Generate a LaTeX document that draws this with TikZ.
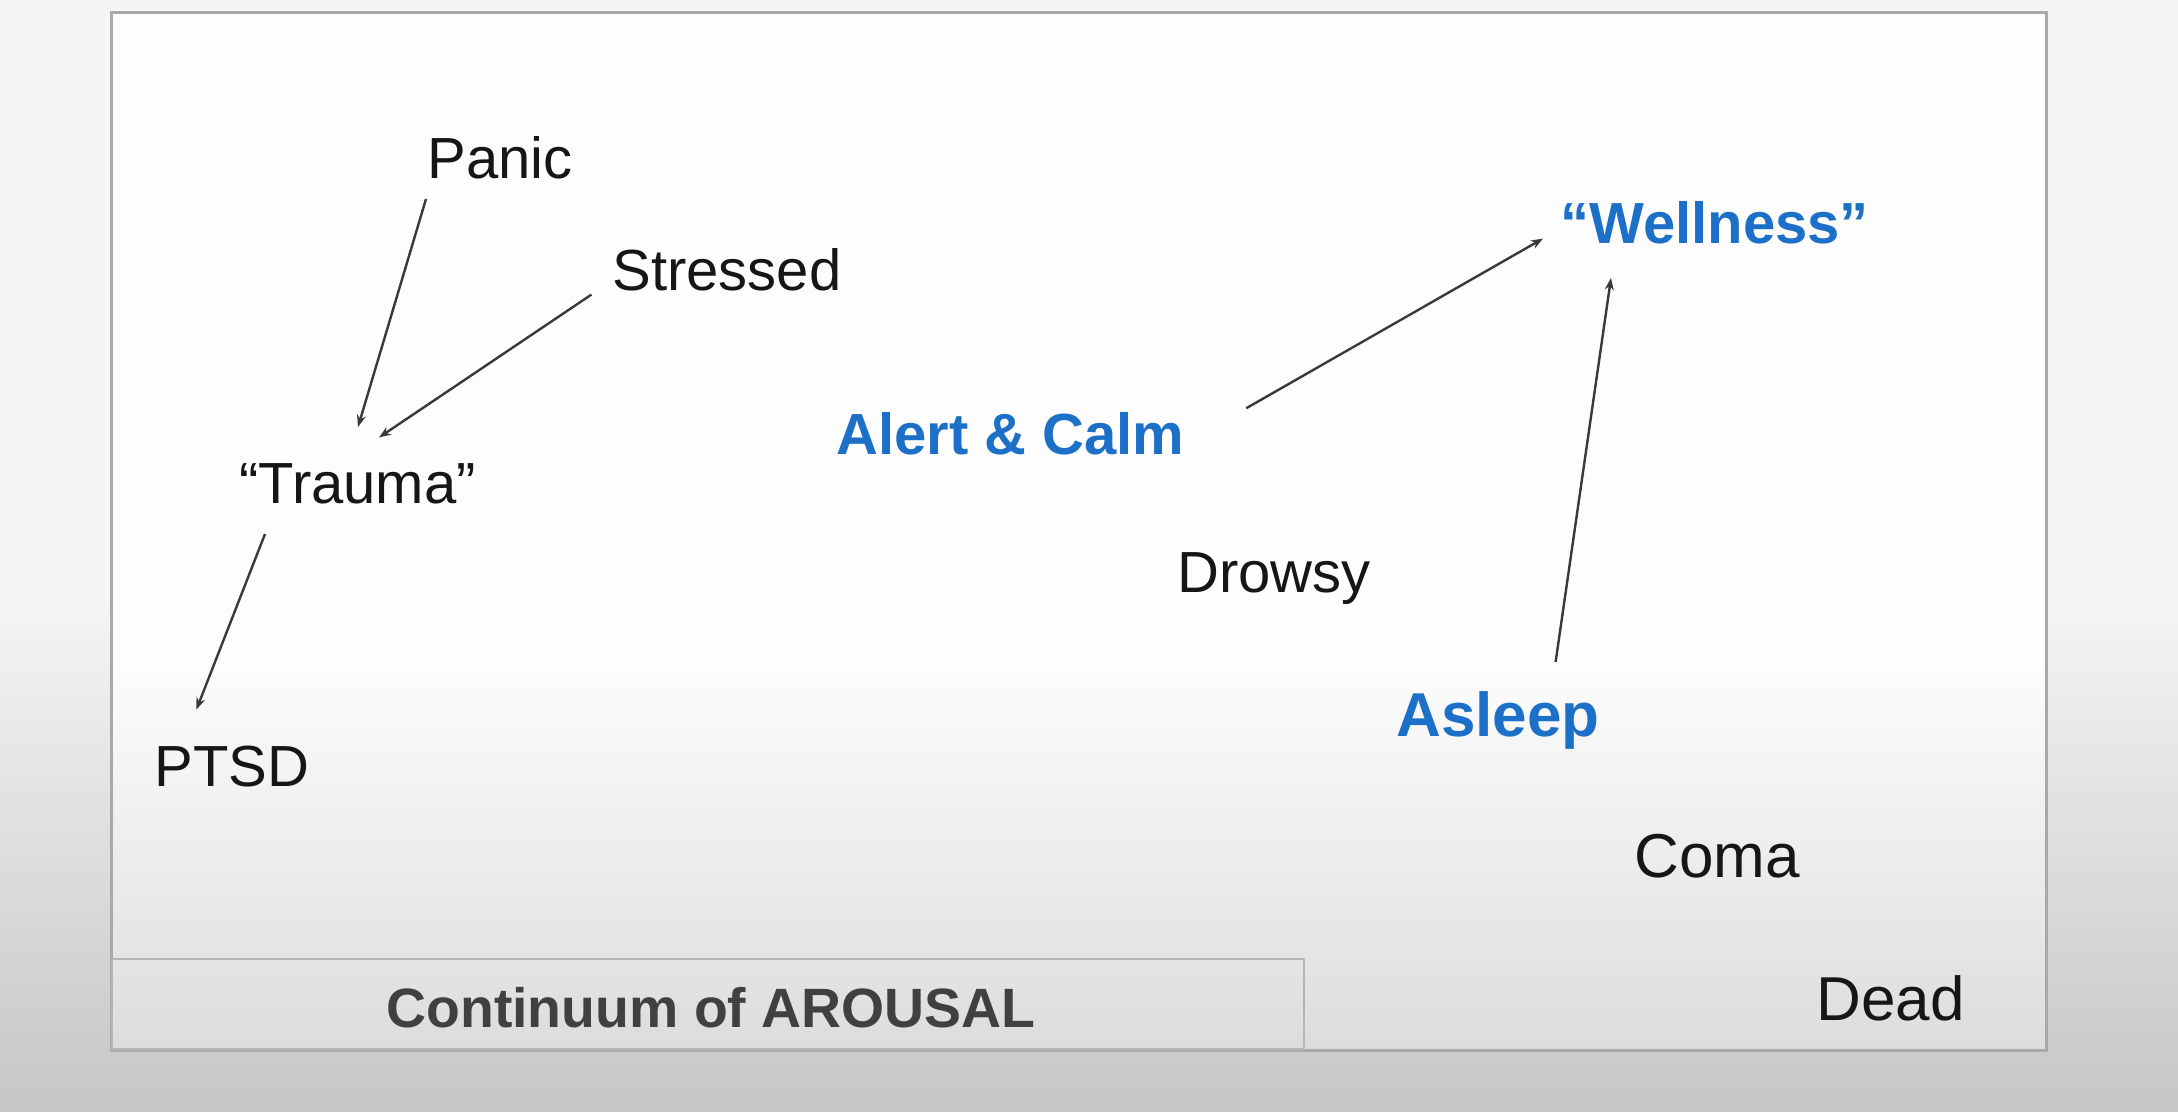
\documentclass[tikz,border=0pt]{standalone}
\usepackage{fontspec}
\setmainfont{Liberation Sans}
\usetikzlibrary{arrows.meta}
\definecolor{lblue}{RGB}{28,112,200}
\definecolor{ink}{RGB}{22,22,22}
\definecolor{framegray}{RGB}{168,170,168}
\pgfdeclareverticalshading{bgshade}{100bp}{rgb(0bp)=(0.77,0.78,0.77); rgb(25bp)=(0.77,0.78,0.77); rgb(48bp)=(0.955,0.96,0.955); rgb(100bp)=(0.955,0.96,0.955)}
\pgfdeclareverticalshading{inshade}{100bp}{rgb(0bp)=(0.86,0.865,0.86); rgb(25bp)=(0.86,0.865,0.86); rgb(44bp)=(0.99,0.993,0.99); rgb(100bp)=(0.99,0.993,0.99)}
\tikzset{
  lbl/.style={inner sep=0pt, anchor=base west, text=ink, font=\fontsize{29pt}{34pt}\selectfont},
  lblbig/.style={lbl, font=\fontsize{31pt}{36pt}\selectfont},
  keylbl/.style={inner sep=0pt, anchor=base west, text=lblue, font=\fontsize{29pt}{34pt}\selectfont\bfseries},
  arr/.style={draw=ink!85, line width=1.2pt, -{Stealth[length=6pt,width=4.5pt]}}
}
\begin{document}
\begin{tikzpicture}[x=0.5pt,y=-0.5pt]
\useasboundingbox (0,0) rectangle (2178,1112);
\shade[shading=bgshade] (0,0) rectangle (2178,1112);
\shade[shading=inshade] (111,12.5) rectangle (2046,1050);
\draw[framegray, line width=1.5pt] (111,12.5) rectangle (2046,1050);
\node[draw=framegray!85, line width=1pt, inner sep=0pt, minimum width=596pt, minimum height=45pt, anchor=south west] (box) at (111,1050) {};
\node[inner sep=0pt, anchor=base west, text=black!75, font=\fontsize{27.7pt}{32pt}\selectfont\bfseries] (cont) at (386,1027) {Continuum of AROUSAL};

\node[lbl] (panic) at (427,179) {Panic};
\node[lbl] (stressed) at (612,291) {Stressed};
\node[lbl] (trauma) at (239,503) {“Trauma”};
\node[lbl] (ptsd) at (154,786) {PTSD};
\node[keylbl] (alert) at (836,454) {Alert \& Calm};
\node[lbl] (drowsy) at (1177,592) {Drowsy};
\node[keylbl] (wellness) at (1560,244) {“Wellness”};
\node[keylbl, font=\fontsize{31pt}{36pt}\selectfont\bfseries] (asleep) at (1396,736) {Asleep};
\node[lblbig] (coma) at (1634,877) {Coma};
\node[lblbig] (dead) at (1816,1020) {Dead};

\draw[arr] ([shift={(-1,20)}]panic.base west) -- ([shift={(119,-76)}]trauma.base west);
\draw[arr] ([shift={(-20.6,3.6)}]stressed.base west) -- ([shift={(140,-65.5)}]trauma.base west);
\draw[arr] ([shift={(26,31)}]trauma.base west) -- ([shift={(42.4,-76.4)}]ptsd.base west);
\draw[arr] ([shift={(410.3,-45.8)}]alert.base west) -- ([shift={(-17,-5.4)}]wellness.base west);
\draw[arr] ([shift={(159.6,-74)}]asleep.base west) -- ([shift={(51,34)}]wellness.base west);
\end{tikzpicture}
\end{document}
